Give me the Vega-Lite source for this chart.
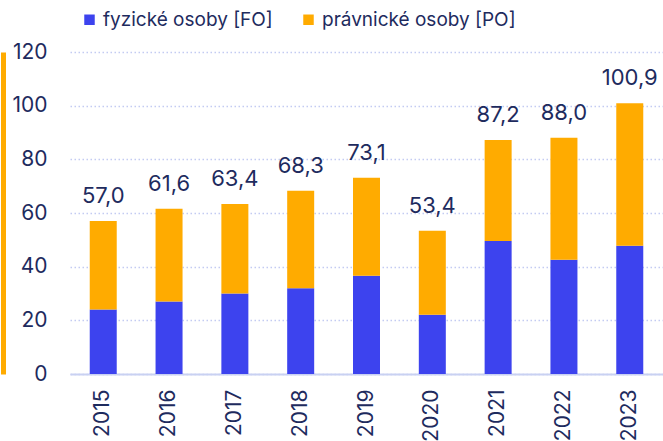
{
  "$schema": "https://vega.github.io/schema/vega-lite/v6.json",
  "width": 593,
  "height": 322,
  "autosize": {"type": "none"},
  "padding": {"left": 70, "top": 52, "right": 0, "bottom": 67},
  "background": "white",
  "config": {
    "font": "Inter",
    "view": {"stroke": null},
    "axis": {"labelFont": "Inter", "labelColor": "#1e2b5e", "labelFontSize": 21, "titleFont": "Inter"},
    "legend": {"labelFont": "Inter", "labelColor": "#1e2b5e", "labelFontSize": 19}
  },
  "datasets": {
    "segments": [
      {"rok": "2015", "typ": "fyzické osoby [FO]", "poradi": 1, "hodnota": 24.0},
      {"rok": "2015", "typ": "právnické osoby [PO]", "poradi": 2, "hodnota": 33.0},
      {"rok": "2016", "typ": "fyzické osoby [FO]", "poradi": 1, "hodnota": 27.0},
      {"rok": "2016", "typ": "právnické osoby [PO]", "poradi": 2, "hodnota": 34.6},
      {"rok": "2017", "typ": "fyzické osoby [FO]", "poradi": 1, "hodnota": 30.0},
      {"rok": "2017", "typ": "právnické osoby [PO]", "poradi": 2, "hodnota": 33.4},
      {"rok": "2018", "typ": "fyzické osoby [FO]", "poradi": 1, "hodnota": 32.0},
      {"rok": "2018", "typ": "právnické osoby [PO]", "poradi": 2, "hodnota": 36.3},
      {"rok": "2019", "typ": "fyzické osoby [FO]", "poradi": 1, "hodnota": 36.6},
      {"rok": "2019", "typ": "právnické osoby [PO]", "poradi": 2, "hodnota": 36.5},
      {"rok": "2020", "typ": "fyzické osoby [FO]", "poradi": 1, "hodnota": 22.1},
      {"rok": "2020", "typ": "právnické osoby [PO]", "poradi": 2, "hodnota": 31.3},
      {"rok": "2021", "typ": "fyzické osoby [FO]", "poradi": 1, "hodnota": 49.6},
      {"rok": "2021", "typ": "právnické osoby [PO]", "poradi": 2, "hodnota": 37.6},
      {"rok": "2022", "typ": "fyzické osoby [FO]", "poradi": 1, "hodnota": 42.6},
      {"rok": "2022", "typ": "právnické osoby [PO]", "poradi": 2, "hodnota": 45.4},
      {"rok": "2023", "typ": "fyzické osoby [FO]", "poradi": 1, "hodnota": 47.8},
      {"rok": "2023", "typ": "právnické osoby [PO]", "poradi": 2, "hodnota": 53.1}
    ],
    "totals": [
      {"rok": "2015", "celkem": 57.0, "popisek": "57,0"},
      {"rok": "2016", "celkem": 61.6, "popisek": "61,6"},
      {"rok": "2017", "celkem": 63.4, "popisek": "63,4"},
      {"rok": "2018", "celkem": 68.3, "popisek": "68,3"},
      {"rok": "2019", "celkem": 73.1, "popisek": "73,1"},
      {"rok": "2020", "celkem": 53.4, "popisek": "53,4"},
      {"rok": "2021", "celkem": 87.2, "popisek": "87,2"},
      {"rok": "2022", "celkem": 88.0, "popisek": "88,0"},
      {"rok": "2023", "celkem": 100.9, "popisek": "100,9"}
    ]
  },
  "resolve": {"axis": {"y": "independent"}},
  "layer": [
    {
      "data": {"name": "segments"},
      "mark": {"type": "bar", "size": 27},
      "encoding": {
        "x": {
          "field": "rok", "type": "nominal",
          "scale": {"paddingInner": 0.59, "paddingOuter": 0.3},
          "axis": {"title": null, "labelAngle": -90, "labelPadding": 15, "labelFontSize": 21, "ticks": false, "domainColor": "#c9d1f2", "domainWidth": 2}
        },
        "y": {
          "field": "hodnota", "type": "quantitative", "stack": "zero",
          "scale": {"domain": [0, 120], "nice": false},
          "axis": {"title": null, "values": [0, 20, 40, 60, 80, 100, 120], "ticks": false, "domain": false, "labelPadding": 23, "gridColor": "#c3cbf2", "gridDash": [1.5, 2.5], "gridWidth": 1.5}
        },
        "color": {
          "field": "typ", "type": "nominal",
          "scale": {"domain": ["fyzické osoby [FO]", "právnické osoby [PO]"], "range": ["#3d43ee", "#ffab00"]},
          "legend": {"title": null, "orient": "none", "legendX": 10, "legendY": -42, "direction": "horizontal", "symbolType": "square", "symbolSize": 110, "symbolStrokeWidth": 0, "columnPadding": 26, "labelOffset": 4, "labelLimit": 400}
        },
        "order": {"field": "poradi", "type": "quantitative"}
      }
    },
    {
      "data": {"name": "totals"},
      "mark": {"type": "text", "baseline": "alphabetic", "dy": -18, "fontSize": 22, "color": "#1e2b5e"},
      "encoding": {
        "x": {"field": "rok", "type": "nominal"},
        "y": {
          "field": "celkem", "type": "quantitative",
          "axis": {"orient": "left", "title": null, "labels": false, "ticks": false, "grid": false, "domainColor": "#ffab00", "domainWidth": 5, "offset": 67}
        },
        "text": {"field": "popisek"}
      }
    }
  ]
}
